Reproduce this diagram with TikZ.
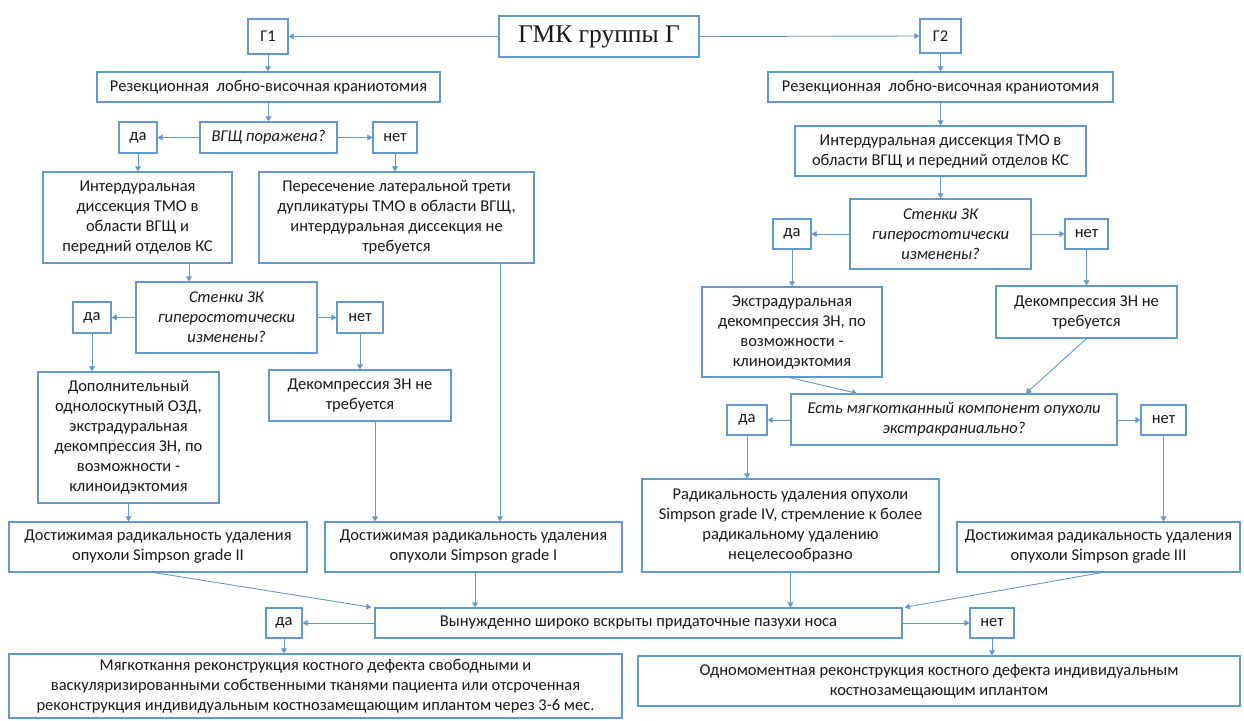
\documentclass[tikz,border=0pt]{standalone}
\usepackage{fontspec}
\setmainfont{Carlito}
\newfontfamily\serifru{Liberation Serif}
\usetikzlibrary{arrows.meta}
\definecolor{bl}{RGB}{98,152,210}
\definecolor{tx}{RGB}{25,25,25}
\tikzset{
  box/.style={draw=bl, line width=1.4pt, fill=white, align=center, inner sep=1pt, text=tx,
    font=\fontsize{16.5}{20}\selectfont},
  arr/.style={draw=bl, line width=0.9pt, -{Triangle[width=6pt,length=5pt]}},
}
\newcommand{\bx}[7]{\node[box, minimum width=#4, minimum height=#5, #6] (#1) at (#2,#3) {#7};}
\begin{document}
\begin{tikzpicture}[x=1pt,y=-1pt]
\useasboundingbox (0,0) rectangle (1244,720);
% top
\bx{gmk}{599}{36.5}{200pt}{41pt}{font=\serifru\fontsize{25.5}{28}\selectfont}{ГМК группы Г}
\bx{g1}{268}{36.5}{40pt}{35pt}{}{Г1}
\bx{g2}{940.5}{36}{41pt}{34pt}{}{Г2}
\bx{rk1}{268.5}{87}{343pt}{30pt}{}{Резекционная\ \ лобно-височная краниотомия}
\bx{rk2}{940.5}{87}{345pt}{30pt}{}{Резекционная\ \ лобно-височная краниотомия}
% left branch
\bx{vgsh}{268.5}{137.5}{137pt}{31pt}{}{\itshape ВГЩ поражена?}
\bx{da1}{138}{137.5}{38pt}{31pt}{}{да}
\bx{net1}{395}{137.5}{44pt}{31pt}{}{нет}
\bx{id1}{137.5}{217.5}{189pt}{91pt}{}{Интердуральная\\диссекция ТМО в\\области ВГЩ и\\передний отделов КС}
\bx{per}{396.5}{217.5}{275pt}{91pt}{}{Пересечение латеральной трети\\дупликатуры ТМО в области ВГЩ,\\интердуральная диссекция не\\требуется}
\bx{st1}{226.5}{317.5}{181pt}{71pt}{}{\itshape Стенки ЗК\\\itshape гиперостотически\\\itshape изменены?}
\bx{da2}{92}{317.5}{38pt}{31pt}{}{да}
\bx{net2}{360}{317.5}{46pt}{31pt}{}{нет}
\bx{dop}{128.5}{437.5}{181pt}{131pt}{}{Дополнительный\\однолоскутный ОЗД,\\экстрадуральная\\декомпрессия ЗН, по\\возможности -\\клиноидэктомия}
\bx{dek1}{360}{395.5}{182pt}{51pt}{}{Декомпрессия ЗН не\\требуется}
\bx{dII}{158}{547}{298pt}{50pt}{}{Достижимая радикальность удаления\\опухоли Simpson grade II}
\bx{dI}{473.5}{547}{297pt}{50pt}{}{Достижимая радикальность удаления\\опухоли Simpson grade I}
% right branch
\bx{id2}{940.5}{151}{291pt}{50pt}{}{Интердуральная диссекция ТМО в\\области ВГЩ и передний отделов КС}
\bx{st2}{940.5}{234}{181pt}{70pt}{}{\itshape Стенки ЗК\\\itshape гиперостотически\\\itshape изменены?}
\bx{da3}{792}{234}{38pt}{30pt}{}{да}
\bx{net3}{1086.5}{234}{43pt}{30pt}{}{нет}
\bx{ext}{792}{332}{180pt}{90pt}{}{Экстрадуральная\\декомпрессия ЗН, по\\возможности -\\клиноидэктомия}
\bx{dek2}{1086.5}{312}{181pt}{52pt}{}{Декомпрессия ЗН не\\требуется}
\bx{est}{954}{419.5}{326pt}{51pt}{}{\itshape Есть мягкотканный компонент опухоли\\\itshape экстракраниально?}
\bx{da4}{747}{420}{40pt}{30pt}{}{да}
\bx{net4}{1163.5}{420}{45pt}{30pt}{}{нет}
\bx{rad}{790.5}{525.5}{297pt}{93pt}{}{Радикальность удаления опухоли\\Simpson grade IV, стремление к более\\радикальному удалению\\нецелесообразно}
\bx{dIII}{1098.5}{547}{283pt}{50pt}{}{Достижимая радикальность удаления\\опухоли Simpson grade III}
% bottom
\bx{vyn}{638.5}{623}{527pt}{30pt}{}{Вынужденно широко вскрыты придаточные пазухи носа}
\bx{da5}{284}{623}{36pt}{30pt}{}{да}
\bx{net5}{992}{623}{44pt}{30pt}{}{нет}
\bx{myag}{315.5}{686}{613pt}{64pt}{}{Мягкоткання реконструкция костного дефекта свободными и\\васкуляризированными собственными тканями пациента или отсроченная\\реконструкция индивидуальным костнозамещающим иплантом через 3-6 мес.}
\bx{odn}{939}{681}{602pt}{50pt}{}{Одномоментная реконструкция костного дефекта индивидуальным\\костнозамещающим иплантом}
% connectors
\draw[arr] (gmk.west) -- (g1.east);
\draw[arr] (gmk.east) -- (g2.west);
\draw[arr] (g1.south) -- (rk1.north -| g1.south);
\draw[arr] (g2.south) -- (rk2.north -| g2.south);
\draw[arr] (rk1.south) -- (vgsh.north);
\draw[arr] (vgsh.west) -- (da1.east);
\draw[arr] (vgsh.east) -- (net1.west);
\draw[arr] (da1.south) -- (id1.north -| da1.south);
\draw[arr] (net1.south) -- (per.north -| net1.south);
\draw[arr] ([xshift=51.5pt]id1.south) -- ([xshift=51.5pt]id1.south |- st1.north);
\draw[arr] (st1.west) -- (da2.east);
\draw[arr] (st1.east) -- (net2.west);
\draw[arr] (da2.south) -- (da2.south |- dop.north);
\draw[arr] (net2.south) -- (dek1.north -| net2.south);
\draw[arr] (dop.south) -- (dop.south |- dII.north);
\draw[arr] ([xshift=15pt]dek1.south) -- ([xshift=15pt]dek1.south |- dI.north);
\draw[arr] ([xshift=103.5pt]per.south) -- ([xshift=103.5pt]per.south |- dI.north);
\draw[arr] (rk2.south) -- (id2.north);
\draw[arr] (id2.south) -- (st2.north);
\draw[arr] (st2.west) -- (da3.east);
\draw[arr] (st2.east) -- (net3.west |- st2.east);
\draw[arr] (da3.south) -- (ext.north -| da3.south);
\draw[arr] (net3.south) -- (dek2.north -| net3.south);
\draw[arr] ([xshift=-2pt]ext.south) -- ([xshift=-97pt]est.north);
\draw[arr] (dek2.south) -- ([xshift=72pt]est.north);
\draw[arr] (est.west |- da4.east) -- (da4.east);
\draw[arr] (est.east |- net4.west) -- (net4.west);
\draw[arr] (da4.south) -- (da4.south |- rad.north);
\draw[arr] (net4.south) -- (net4.south |- dIII.north);
\draw[arr] ([xshift=-3pt]dII.south) -- ([xshift=-3pt]vyn.north west);
\draw[arr] ([xshift=1.5pt]dI.south) -- ([xshift=1.5pt]dI.south |- vyn.north);
\draw[arr] (rad.south) -- (rad.south |- vyn.north);
\draw[arr] ([xshift=2.5pt]dIII.south) -- ([xshift=2pt]vyn.north east);
\draw[arr] (vyn.west) -- (da5.east);
\draw[arr] (vyn.east) -- (net5.west);
\draw[arr] (da5.south) -- (da5.south |- myag.north);
\draw[arr] (net5.south) -- (net5.south |- odn.north);
\end{tikzpicture}
\end{document}
